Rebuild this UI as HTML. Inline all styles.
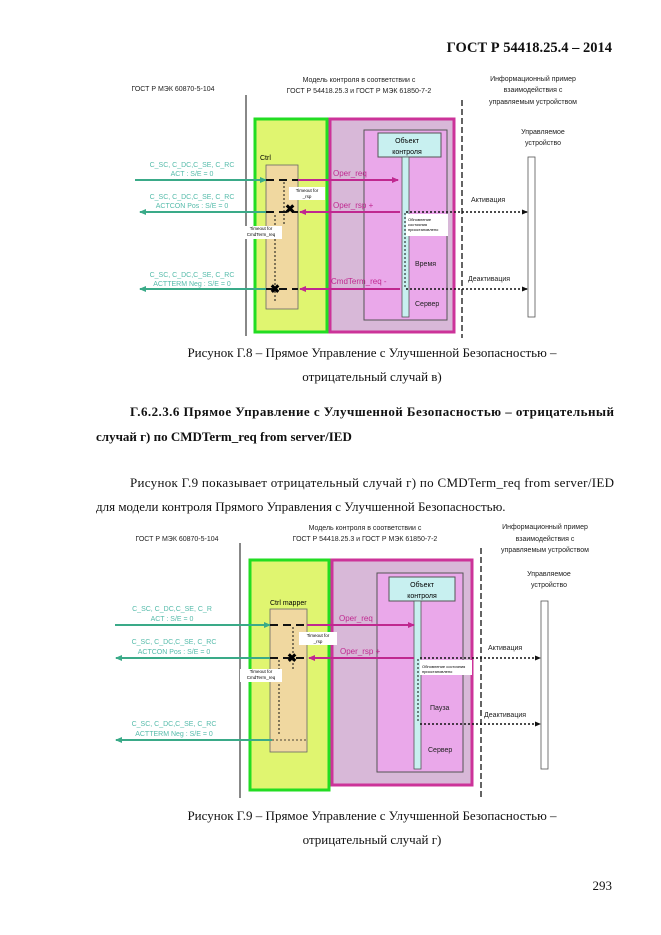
<!DOCTYPE html>
<html><head><meta charset="utf-8"><style>
html,body{margin:0;padding:0;background:#fff}
svg{display:block}
.s{font-family:"Liberation Serif",serif;fill:#111}
.a{font-family:"Liberation Sans",sans-serif}
</style></head><body>
<svg width="661" height="935" viewBox="0 0 661 935" xmlns="http://www.w3.org/2000/svg">
<defs>
<marker id="at" markerUnits="userSpaceOnUse" markerWidth="7" markerHeight="6" refX="6" refY="3" orient="auto"><path d="M0,0L7,3L0,6z" fill="#3aaa88"/></marker>
<marker id="am" markerUnits="userSpaceOnUse" markerWidth="7" markerHeight="6" refX="6" refY="3" orient="auto"><path d="M0,0L7,3L0,6z" fill="#c02890"/></marker>
<marker id="ak" markerUnits="userSpaceOnUse" markerWidth="6" markerHeight="5" refX="5" refY="2.5" orient="auto"><path d="M0,0L6,2.5L0,5z" fill="#111"/></marker>
</defs>
<text x="612" y="52" text-anchor="end" class="s" font-size="14.5" font-weight="bold">ГОСТ Р 54418.25.4 – 2014</text>

<!-- Figure 1 -->
<g class="a" font-size="7" fill="#222">
<text x="173" y="91" text-anchor="middle">ГОСТ Р МЭК 60870-5-104</text>
<text x="359" y="82" text-anchor="middle">Модель контроля в соответствии с</text>
<text x="359" y="93" text-anchor="middle">ГОСТ Р 54418.25.3 и  ГОСТ Р МЭК 61850-7-2</text>
<text x="533" y="81" text-anchor="middle">Информационный пример</text>
<text x="533" y="92" text-anchor="middle">взаимодействия с</text>
<text x="533" y="104" text-anchor="middle">управляемым устройством</text>
<text x="543" y="134" text-anchor="middle">Управляемое</text>
<text x="543" y="145" text-anchor="middle">устройство</text>
</g>
<line x1="246" y1="95" x2="246" y2="336" stroke="#111" stroke-width="1"/>
<rect x="255" y="119" width="72" height="213" fill="#e0f570" stroke="#22dd22" stroke-width="3"/>
<rect x="330" y="119" width="124" height="213" fill="#d8b8d8" stroke="#cc3399" stroke-width="3"/>
<rect x="364" y="130" width="83" height="190" fill="#eaa8ea" stroke="#555" stroke-width="1"/>
<rect x="378" y="133" width="63" height="24" fill="#c8f0f0" stroke="#555" stroke-width="1"/>
<text x="407" y="143" text-anchor="middle" class="a" font-size="7">Объект</text>
<text x="407" y="154" text-anchor="middle" class="a" font-size="7">контроля</text>
<rect x="402" y="157" width="7" height="160" fill="#c8f0f0" stroke="#555" stroke-width="0.8"/>
<line x1="462" y1="100" x2="462" y2="338" stroke="#111" stroke-width="1.3" stroke-dasharray="6,3"/>
<rect x="528" y="157" width="7" height="160" fill="#fff" stroke="#555" stroke-width="0.8"/>
<text x="260" y="160" class="a" font-size="7">Ctrl</text>
<rect x="266" y="165" width="32" height="144" fill="#f0d8a0" stroke="#666" stroke-width="0.8"/>
<g font-family="Liberation Sans,sans-serif" font-size="7" fill="#55bbaa" text-anchor="middle">
<text x="192" y="167">C_SC, C_DC,C_SE, C_RC</text>
<text x="192" y="176">ACT : S/E = 0</text>
<text x="192" y="199">C_SC, C_DC,C_SE, C_RC</text>
<text x="192" y="208">ACTCON Pos : S/E = 0</text>
<text x="192" y="277">C_SC, C_DC,C_SE, C_RC</text>
<text x="192" y="286">ACTTERM Neg : S/E = 0</text>
</g>
<line x1="135" y1="180" x2="266" y2="180" stroke="#3aaa88" stroke-width="2" marker-end="url(#at)"/>
<line x1="266" y1="212" x2="140" y2="212" stroke="#3aaa88" stroke-width="2" marker-end="url(#at)"/>
<line x1="266" y1="289" x2="140" y2="289" stroke="#3aaa88" stroke-width="2" marker-end="url(#at)"/>
<line x1="266" y1="180" x2="298" y2="180" stroke="#111" stroke-width="2" stroke-dasharray="8,5"/>
<line x1="266" y1="212" x2="298" y2="212" stroke="#111" stroke-width="2" stroke-dasharray="8,5"/>
<line x1="266" y1="289" x2="298" y2="289" stroke="#111" stroke-width="2" stroke-dasharray="8,5"/>
<line x1="284" y1="182" x2="284" y2="225" stroke="#111" stroke-dasharray="2,2"/>
<line x1="275" y1="215" x2="275" y2="302" stroke="#111" stroke-dasharray="2,2"/>
<text x="285" y="213" font-size="12" font-weight="bold" class="a">✖</text>
<text x="270" y="293" font-size="12" font-weight="bold" class="a">✖</text>
<rect x="289" y="187" width="36" height="13" fill="#fff"/>
<text x="307" y="192" class="a" font-size="4.5" text-anchor="middle">Timeout for</text>
<text x="307" y="198" class="a" font-size="4.5" text-anchor="middle">_rsp</text>
<rect x="240" y="226" width="42" height="13" fill="#fff"/>
<text x="261" y="230" class="a" font-size="4.5" text-anchor="middle">Timeout for</text>
<text x="261" y="236" class="a" font-size="4.5" text-anchor="middle">CmdTerm_req</text>
<line x1="298" y1="180" x2="398" y2="180" stroke="#c02890" stroke-width="2" marker-end="url(#am)"/>
<line x1="400" y1="212" x2="300" y2="212" stroke="#c02890" stroke-width="2" marker-end="url(#am)"/>
<line x1="400" y1="289" x2="300" y2="289" stroke="#c02890" stroke-width="2" marker-end="url(#am)"/>
<g class="a" font-size="8" fill="#c02890">
<text x="333" y="176">Oper_req</text>
<text x="333" y="208">Oper_rsp +</text>
<text x="331" y="284">CmdTerm_req -</text>
</g>
<line x1="406" y1="212" x2="527" y2="212" stroke="#111" stroke-width="1.5" stroke-dasharray="2,2" marker-end="url(#ak)"/>
<line x1="406" y1="289" x2="527" y2="289" stroke="#111" stroke-width="1.5" stroke-dasharray="2,2" marker-end="url(#ak)"/>
<line x1="405" y1="213" x2="405" y2="287" stroke="#111" stroke-dasharray="2,2"/>
<rect x="406" y="214" width="42" height="22" fill="#fff"/>
<text x="408" y="221" class="a" font-size="4">Обновление</text>
<text x="408" y="226" class="a" font-size="4">состояния</text>
<text x="408" y="231" class="a" font-size="4">приостановлено</text>
<g class="a" font-size="7" fill="#222">
<text x="415" y="266">Время</text>
<text x="415" y="306">Сервер</text>
<text x="471" y="202">Активация</text>
<text x="468" y="281">Деактивация</text>
</g>

<text x="372" y="357" text-anchor="middle" class="s" font-size="13">Рисунок Г.8 – Прямое Управление с Улучшенной Безопасностью –</text>
<text x="372" y="381" text-anchor="middle" class="s" font-size="13">отрицательный случай в)</text>
<text x="614" y="416" text-anchor="end" class="s" font-size="13" font-weight="bold" textLength="484">Г.6.2.3.6 Прямое Управление с Улучшенной Безопасностью – отрицательный</text>
<text x="96" y="441" class="s" font-size="13" font-weight="bold">случай г) по CMDTerm_req from server/IED</text>
<text x="614" y="487" text-anchor="end" class="s" font-size="13" textLength="484">Рисунок Г.9 показывает отрицательный случай г) по CMDTerm_req from server/IED</text>
<text x="96" y="511" class="s" font-size="13">для модели контроля Прямого Управления с Улучшенной Безопасностью.</text>

<!-- Figure 2 -->
<g class="a" font-size="7" fill="#222">
<text x="177" y="541" text-anchor="middle">ГОСТ Р МЭК 60870-5-104</text>
<text x="365" y="530" text-anchor="middle">Модель контроля в соответствии с</text>
<text x="365" y="541" text-anchor="middle">ГОСТ Р 54418.25.3 и  ГОСТ Р МЭК 61850-7-2</text>
<text x="545" y="529" text-anchor="middle">Информационный пример</text>
<text x="545" y="541" text-anchor="middle">взаимодействия с</text>
<text x="545" y="552" text-anchor="middle">управляемым устройством</text>
<text x="549" y="576" text-anchor="middle">Управляемое</text>
<text x="549" y="587" text-anchor="middle">устройство</text>
</g>
<line x1="240" y1="543" x2="240" y2="798" stroke="#111" stroke-width="1"/>
<rect x="250" y="560" width="79" height="230" fill="#e0f570" stroke="#22dd22" stroke-width="3"/>
<rect x="332" y="560" width="140" height="225" fill="#d8b8d8" stroke="#cc3399" stroke-width="3"/>
<rect x="377" y="573" width="86" height="199" fill="#eaa8ea" stroke="#555" stroke-width="1"/>
<rect x="389" y="577" width="66" height="24" fill="#c8f0f0" stroke="#555" stroke-width="1"/>
<text x="422" y="587" text-anchor="middle" class="a" font-size="7">Объект</text>
<text x="422" y="598" text-anchor="middle" class="a" font-size="7">контроля</text>
<rect x="414" y="601" width="7" height="168" fill="#c8f0f0" stroke="#555" stroke-width="0.8"/>
<line x1="481" y1="548" x2="481" y2="800" stroke="#111" stroke-width="1.3" stroke-dasharray="6,3"/>
<rect x="541" y="601" width="7" height="168" fill="#fff" stroke="#555" stroke-width="0.8"/>
<text x="270" y="605" class="a" font-size="7">Ctrl mapper</text>
<rect x="270" y="609" width="37" height="143" fill="#f0d8a0" stroke="#666" stroke-width="0.8"/>
<g font-family="Liberation Sans,sans-serif" font-size="7" fill="#55bbaa" text-anchor="middle">
<text x="172" y="611">C_SC, C_DC,C_SE, C_R</text>
<text x="172" y="621">ACT : S/E = 0</text>
<text x="174" y="644">C_SC, C_DC,C_SE, C_RC</text>
<text x="174" y="654">ACTCON Pos : S/E = 0</text>
<text x="174" y="726">C_SC, C_DC,C_SE, C_RC</text>
<text x="174" y="736">ACTTERM Neg : S/E = 0</text>
</g>
<line x1="115" y1="625" x2="270" y2="625" stroke="#3aaa88" stroke-width="2" marker-end="url(#at)"/>
<line x1="270" y1="658" x2="116" y2="658" stroke="#3aaa88" stroke-width="2" marker-end="url(#at)"/>
<line x1="272" y1="740" x2="116" y2="740" stroke="#3aaa88" stroke-width="2" marker-end="url(#at)"/>
<line x1="270" y1="625" x2="307" y2="625" stroke="#111" stroke-width="2" stroke-dasharray="8,5"/>
<line x1="270" y1="658" x2="307" y2="658" stroke="#111" stroke-width="2" stroke-dasharray="8,5"/>
<line x1="272" y1="740" x2="307" y2="740" stroke="#111" stroke-width="0.8" stroke-dasharray="2,2"/>
<line x1="293" y1="627" x2="293" y2="670" stroke="#111" stroke-dasharray="2,2"/>
<line x1="279" y1="660" x2="279" y2="736" stroke="#111" stroke-dasharray="2,2"/>
<text x="287" y="662" font-size="12" font-weight="bold" class="a">✖</text>
<rect x="299" y="632" width="38" height="13" fill="#fff"/>
<text x="318" y="637" class="a" font-size="4.5" text-anchor="middle">Timeout for</text>
<text x="318" y="643" class="a" font-size="4.5" text-anchor="middle">_rsp</text>
<rect x="240" y="669" width="42" height="13" fill="#fff"/>
<text x="261" y="673" class="a" font-size="4.5" text-anchor="middle">Timeout for</text>
<text x="261" y="679" class="a" font-size="4.5" text-anchor="middle">CmdTerm_req</text>
<line x1="307" y1="625" x2="414" y2="625" stroke="#c02890" stroke-width="2" marker-end="url(#am)"/>
<line x1="414" y1="658" x2="309" y2="658" stroke="#c02890" stroke-width="2" marker-end="url(#am)"/>
<g class="a" font-size="8" fill="#c02890">
<text x="339" y="621">Oper_req</text>
<text x="340" y="654">Oper_rsp +</text>
</g>
<line x1="420" y1="658" x2="540" y2="658" stroke="#111" stroke-width="1.5" stroke-dasharray="2,2" marker-end="url(#ak)"/>
<line x1="420" y1="724" x2="540" y2="724" stroke="#111" stroke-width="1.5" stroke-dasharray="2,2" marker-end="url(#ak)"/>
<line x1="418" y1="659" x2="418" y2="722" stroke="#111" stroke-dasharray="2,2"/>
<rect x="420" y="660" width="52" height="15" fill="#fff"/>
<text x="422" y="668" class="a" font-size="4">Обновление состояния</text>
<text x="422" y="673" class="a" font-size="4">приостановлено</text>
<g class="a" font-size="7" fill="#222">
<text x="430" y="710">Пауза</text>
<text x="428" y="752">Сервер</text>
<text x="488" y="650">Активация</text>
<text x="484" y="717">Деактивация</text>
</g>

<text x="372" y="820" text-anchor="middle" class="s" font-size="13">Рисунок Г.9 – Прямое Управление с Улучшенной Безопасностью –</text>
<text x="372" y="844" text-anchor="middle" class="s" font-size="13">отрицательный случай г)</text>
<text x="612" y="890" text-anchor="end" class="s" font-size="13">293</text>
</svg>
</body></html>
